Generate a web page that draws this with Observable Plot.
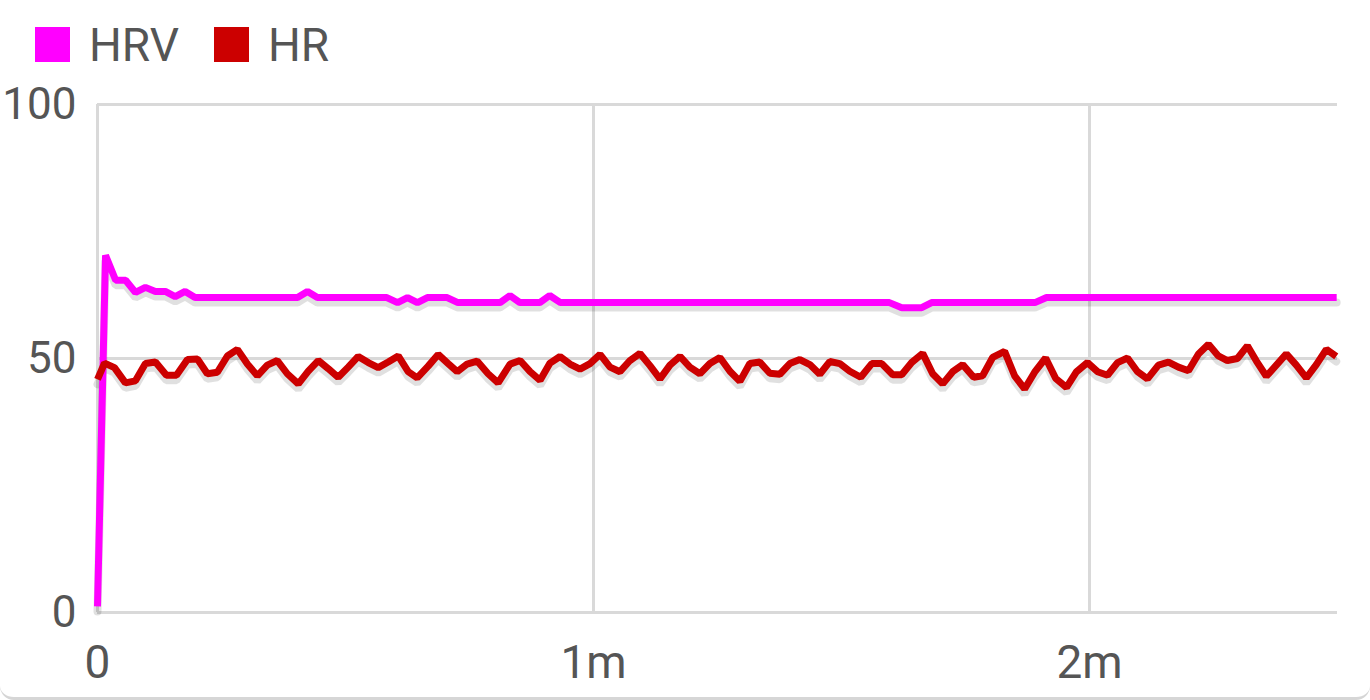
<!DOCTYPE html>
<html>
<head>
<meta charset="utf-8">
<script src="https://cdn.jsdelivr.net/npm/d3@7"></script>
<script src="https://cdn.jsdelivr.net/npm/@observablehq/plot@0.6"></script>
<style>
  html, body { margin: 0; padding: 0; background: #fff; }
  #card { position: relative; width: 1370px; height: 700px; box-sizing: border-box;
          border-bottom: 3px solid #d6d6d6; border-radius: 0 0 14px 14px; overflow: hidden; }
  #legend { position: relative; height: 80px; font-family: Roboto, sans-serif; font-size: 46px; color: #555; }
  .sw { position: absolute; top: 27px; width: 35px; height: 35px; }
  .lb { position: absolute; top: 22px; line-height: 1; }
</style>
</head>
<body>
<div id="card">
  <div id="legend"></div>
  <div id="chart"></div>
</div>
<script>
// Series names and colours
const seriesNames = ["HRV", "HR"];
const seriesColors = ["#ff00ff", "#cc0000"];

// HR: beat times (seconds) and values
const hrTimes = [0, 0.85, 2.05, 3.38, 4.59, 5.8, 7.01, 8.34, 9.55, 10.88, 12.09, 13.29, 14.5, 15.71, 16.92, 18.13, 19.34, 20.54, 21.75, 22.96,
  24.29, 25.5, 26.71, 27.92, 29.12, 30.33, 31.54, 32.75, 33.96, 35.17, 36.38, 37.58, 38.67, 40.0, 41.21, 42.42, 43.51, 44.71, 45.92, 47.25,
  48.46, 49.91, 51.12, 52.33, 53.54, 54.74, 55.95, 57.16, 58.37, 59.58, 60.79, 62.0, 63.2, 64.41, 65.62, 66.83, 68.04, 69.25, 70.46, 71.66,
  72.87, 74.08, 75.29, 76.5, 77.71, 78.91, 80.12, 81.33, 82.54, 83.75, 84.96, 86.17, 87.37, 88.58, 89.79, 91.0, 92.33, 93.66, 94.87, 96.2,
  97.28, 98.49, 99.82, 101.03, 102.24, 103.45, 104.66, 105.99, 107.07, 108.28, 109.73, 110.94, 112.15, 113.36, 114.69, 115.9, 117.22, 118.43, 119.76, 120.97,
  122.18, 123.39, 124.6, 125.81, 127.01, 128.34, 129.55, 130.76, 131.97, 133.18, 134.39, 135.59, 136.68, 137.89, 139.1, 140.19, 141.39, 142.6, 143.81, 145.02,
  146.23, 147.44, 148.65, 149.85];
const hrValues = [45.9, 49.1, 48.2, 45.2, 45.6, 49.0, 49.3, 46.7, 46.7, 49.8, 49.9, 47.0, 47.3, 50.5, 51.8, 48.9, 46.6, 48.7, 49.6, 47.0,
  45.0, 47.5, 49.6, 48.0, 46.3, 48.3, 50.4, 49.2, 48.2, 49.3, 50.5, 47.4, 46.2, 48.5, 50.8, 49.0, 47.4, 48.9, 49.5, 47.0,
  45.2, 48.9, 49.6, 47.4, 45.7, 49.1, 50.4, 48.9, 47.9, 49.0, 50.8, 48.3, 47.4, 49.6, 51.0, 48.6, 46.0, 48.7, 50.4, 48.3,
  47.0, 49.0, 50.2, 47.5, 45.5, 49.0, 49.3, 47.1, 46.9, 49.0, 49.8, 48.8, 46.9, 49.4, 49.0, 47.5, 46.3, 49.0, 49.0, 46.8,
  46.8, 49.2, 51.0, 47.0, 45.0, 47.4, 48.8, 46.3, 46.6, 50.2, 51.4, 46.6, 44.0, 47.3, 50.1, 46.1, 44.3, 47.4, 49.2, 47.4,
  46.7, 49.2, 50.1, 47.4, 46.0, 48.7, 49.3, 48.3, 47.6, 50.9, 52.8, 50.5, 49.6, 50.0, 52.5, 49.5, 46.5, 48.7, 50.9, 48.7,
  46.2, 48.8, 51.8, 50.4];

// HRV: times (seconds) and values
const hrvTimes = [0, 0.97, 2.2, 3.4, 4.6, 5.8, 7.0, 8.2, 9.4, 10.6, 11.8, 24.2, 25.4, 26.6, 35.0, 36.3, 37.5, 38.7, 39.9, 42.3,
  43.6, 48.7, 49.9, 51.1, 53.5, 54.7, 56.0, 95.8, 97.3, 99.7, 100.9, 113.4, 114.8, 149.9];
const hrvValues = [1.2, 70.3, 65.4, 65.4, 63.0, 64.0, 63.2, 63.2, 62.2, 63.2, 62, 62, 63.2, 62, 62, 61, 62, 61, 62, 62,
  61, 61, 62.4, 61, 61, 62.4, 61, 61, 60, 60, 61, 61, 62, 62];

// Axis ticks
const xTicks = [0, 60, 120];
const xTickLabels = ["0", "1m", "2m"];
const yTicks = [0, 50, 100];

const hrData = hrTimes.map((t, i) => ({t, v: hrValues[i]}));
const hrvData = hrvTimes.map((t, i) => ({t, v: hrvValues[i]}));
const fmt = d => xTickLabels[xTicks.indexOf(d)];

// Legend
const legend = document.getElementById("legend");
const swLeft = [35, 214], lbLeft = [89, 268];
seriesNames.forEach((name, i) => {
  const sw = document.createElement("div");
  sw.className = "sw"; sw.style.left = swLeft[i] + "px"; sw.style.background = seriesColors[i];
  const lb = document.createElement("div");
  lb.className = "lb"; lb.style.left = lbLeft[i] + "px"; lb.textContent = name;
  legend.append(sw, lb);
});

const chart = Plot.plot({
  width: 1370,
  height: 617,
  marginTop: 24,
  marginBottom: 85,
  marginLeft: 97,
  marginRight: 33,
  style: {fontFamily: "Roboto, sans-serif", fontSize: "46px", color: "#555", background: "transparent", overflow: "visible"},
  x: {domain: [0, 150]},
  y: {domain: [0, 100]},
  marks: [
    Plot.ruleY(yTicks, {stroke: "#d9d9d9", strokeWidth: 3}),
    Plot.ruleX(xTicks, {stroke: "#d9d9d9", strokeWidth: 3}),
    Plot.axisY({ticks: yTicks, tickSize: 0, tickPadding: 21, label: null, fontSize: 44, fill: "#555"}),
    Plot.axisX({ticks: xTicks, tickFormat: fmt, tickSize: 0, tickPadding: 33, label: null, fontSize: 46, fill: "#555"}),
    Plot.line(hrvData, {x: "t", y: "v", stroke: "#000", strokeOpacity: 0.12, strokeWidth: 8, dy: 5, strokeLinejoin: "miter"}),
    Plot.line(hrData, {x: "t", y: "v", stroke: "#000", strokeOpacity: 0.12, strokeWidth: 8, dy: 5, strokeLinejoin: "miter"}),
    Plot.line(hrvData, {x: "t", y: "v", stroke: seriesColors[0], strokeWidth: 7, strokeLinejoin: "miter", strokeLinecap: "butt"}),
    Plot.line(hrData, {x: "t", y: "v", stroke: seriesColors[1], strokeWidth: 7, strokeLinejoin: "miter", strokeLinecap: "butt"})
  ]
});
document.getElementById("chart").append(chart);
</script>
</body>
</html>
